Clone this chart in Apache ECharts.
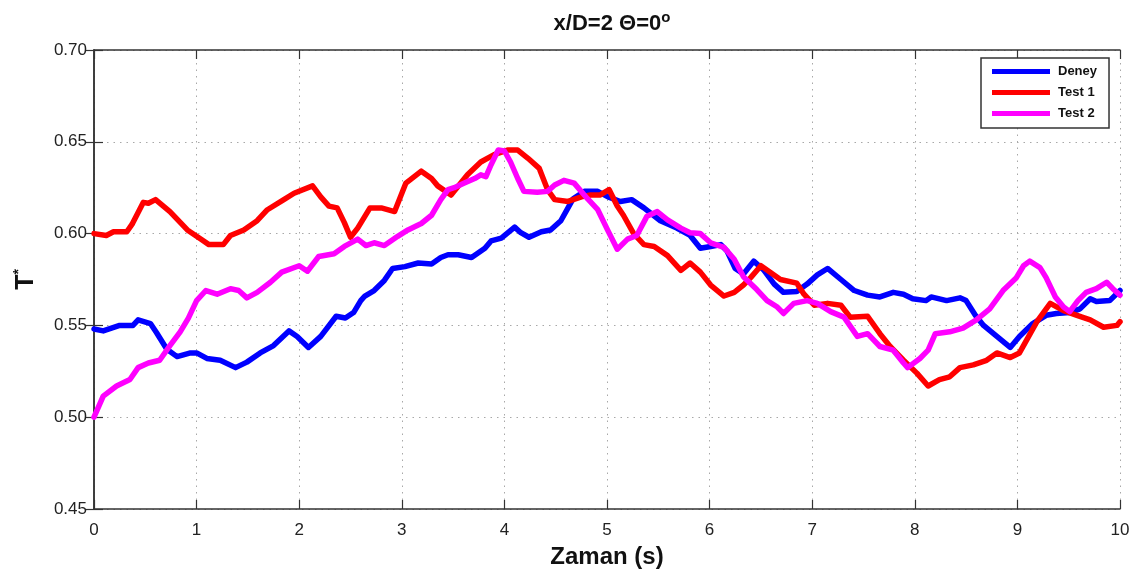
<!DOCTYPE html>
<html>
<head>
<meta charset="utf-8">
<script src="https://cdn.jsdelivr.net/npm/echarts@6/dist/echarts.min.js"></script>
<style>
  html, body { margin: 0; padding: 0; background: #fff; }
  #chart { width: 1140px; height: 578px; }
</style>
</head>
<body>
<div id="chart"></div>
<script>
// Time axis ticks (s) and T* axis ticks
const xTicks = [0, 1, 2, 3, 4, 5, 6, 7, 8, 9, 10];
const yTicks = [0.45, 0.50, 0.55, 0.60, 0.65, 0.70];

// Deney (experiment)
const deneyT = [0, 0.09, 0.25, 0.38, 0.43, 0.55, 0.61, 0.71, 0.81, 0.94, 1.00, 1.10, 1.23, 1.38, 1.49, 1.62, 1.75, 1.90, 1.98, 2.09, 2.21, 2.36, 2.45, 2.53, 2.60, 2.64, 2.73, 2.83, 2.91, 3.03, 3.16, 3.29, 3.38, 3.45, 3.55, 3.68, 3.81, 3.87, 3.97, 4.10, 4.16, 4.24, 4.36, 4.45, 4.55, 4.62, 4.67, 4.78, 4.91, 5.01, 5.13, 5.24, 5.36, 5.52, 5.68, 5.81, 5.91, 6.01, 6.11, 6.17, 6.25, 6.33, 6.43, 6.53, 6.63, 6.72, 6.85, 6.95, 7.05, 7.15, 7.28, 7.41, 7.54, 7.66, 7.79, 7.89, 7.98, 8.11, 8.16, 8.31, 8.44, 8.50, 8.59, 8.67, 8.80, 8.93, 9.02, 9.15, 9.28, 9.38, 9.51, 9.61, 9.71, 9.77, 9.90, 10.0];
const deneyV = [0.548, 0.547, 0.550, 0.550, 0.553, 0.551, 0.546, 0.537, 0.533, 0.535, 0.535, 0.532, 0.531, 0.527, 0.530, 0.535, 0.539, 0.547, 0.544, 0.538, 0.544, 0.555, 0.554, 0.557, 0.5635, 0.566, 0.569, 0.5745, 0.581, 0.582, 0.584, 0.5835, 0.587, 0.5885, 0.5885, 0.587, 0.592, 0.596, 0.5975, 0.6035, 0.6005, 0.598, 0.601, 0.602, 0.607, 0.614, 0.619, 0.623, 0.623, 0.620, 0.6175, 0.6185, 0.614, 0.607, 0.603, 0.599, 0.592, 0.593, 0.594, 0.5905, 0.581, 0.578, 0.585, 0.580, 0.5725, 0.568, 0.5685, 0.5725, 0.5775, 0.581, 0.575, 0.569, 0.5665, 0.5655, 0.568, 0.567, 0.5645, 0.5635, 0.5655, 0.5635, 0.565, 0.5635, 0.5555, 0.550, 0.544, 0.538, 0.544, 0.551, 0.5555, 0.5565, 0.557, 0.559, 0.5645, 0.563, 0.5635, 0.569];

// Test 1
const test1T = [0, 0.12, 0.19, 0.32, 0.37, 0.48, 0.53, 0.60, 0.74, 0.91, 1.04, 1.12, 1.26, 1.33, 1.46, 1.59, 1.69, 1.85, 1.95, 2.13, 2.21, 2.29, 2.37, 2.44, 2.50, 2.57, 2.69, 2.80, 2.93, 3.04, 3.19, 3.29, 3.35, 3.48, 3.64, 3.77, 3.90, 4.03, 4.13, 4.23, 4.34, 4.42, 4.49, 4.62, 4.75, 4.84, 4.93, 5.02, 5.10, 5.16, 5.26, 5.36, 5.46, 5.59, 5.72, 5.81, 5.91, 6.01, 6.14, 6.24, 6.33, 6.40, 6.50, 6.59, 6.69, 6.85, 6.92, 7.02, 7.15, 7.28, 7.37, 7.54, 7.66, 7.76, 7.89, 8.02, 8.13, 8.24, 8.34, 8.44, 8.57, 8.70, 8.80, 8.93, 9.02, 9.11, 9.19, 9.32, 9.45, 9.58, 9.71, 9.84, 9.97, 10.0];
const test1V = [0.600, 0.599, 0.601, 0.601, 0.605, 0.617, 0.6165, 0.6185, 0.612, 0.602, 0.597, 0.594, 0.594, 0.599, 0.602, 0.607, 0.613, 0.6185, 0.622, 0.626, 0.620, 0.615, 0.614, 0.606, 0.598, 0.603, 0.614, 0.614, 0.612, 0.6275, 0.634, 0.630, 0.626, 0.621, 0.632, 0.639, 0.643, 0.6455, 0.6455, 0.641, 0.6355, 0.624, 0.6185, 0.6175, 0.620, 0.621, 0.621, 0.624, 0.615, 0.610, 0.600, 0.594, 0.593, 0.588, 0.580, 0.584, 0.579, 0.572, 0.566, 0.568, 0.572, 0.576, 0.5825, 0.579, 0.575, 0.573, 0.567, 0.561, 0.562, 0.561, 0.5545, 0.555, 0.5455, 0.5385, 0.531, 0.524, 0.517, 0.5205, 0.522, 0.527, 0.5285, 0.531, 0.535, 0.5325, 0.535, 0.544, 0.552, 0.562, 0.558, 0.5555, 0.553, 0.549, 0.550, 0.552];

// Test 2
const test2T = [0, 0.09, 0.22, 0.35, 0.43, 0.53, 0.64, 0.74, 0.84, 0.92, 1.00, 1.09, 1.20, 1.33, 1.41, 1.49, 1.59, 1.72, 1.83, 2.00, 2.08, 2.19, 2.34, 2.44, 2.57, 2.65, 2.73, 2.83, 2.96, 3.06, 3.19, 3.29, 3.38, 3.45, 3.51, 3.61, 3.71, 3.77, 3.82, 3.87, 3.94, 4.00, 4.06, 4.13, 4.19, 4.32, 4.42, 4.49, 4.58, 4.68, 4.81, 4.91, 5.01, 5.10, 5.20, 5.29, 5.39, 5.49, 5.59, 5.72, 5.81, 5.91, 6.01, 6.14, 6.24, 6.33, 6.46, 6.56, 6.66, 6.72, 6.82, 6.95, 7.05, 7.18, 7.31, 7.44, 7.54, 7.66, 7.79, 7.89, 7.93, 8.05, 8.13, 8.20, 8.34, 8.47, 8.60, 8.73, 8.86, 8.99, 9.06, 9.12, 9.22, 9.28, 9.37, 9.45, 9.51, 9.59, 9.67, 9.77, 9.87, 9.93, 10.0];
const test2V = [0.500, 0.5115, 0.517, 0.5205, 0.527, 0.5295, 0.531, 0.539, 0.5465, 0.554, 0.5635, 0.569, 0.567, 0.570, 0.569, 0.565, 0.568, 0.5735, 0.579, 0.5825, 0.5795, 0.5875, 0.589, 0.593, 0.597, 0.5935, 0.595, 0.5935, 0.5985, 0.602, 0.6055, 0.610, 0.6185, 0.624, 0.625, 0.6275, 0.630, 0.632, 0.631, 0.6375, 0.6455, 0.645, 0.639, 0.630, 0.623, 0.6225, 0.623, 0.6265, 0.629, 0.6275, 0.619, 0.613, 0.6015, 0.5915, 0.597, 0.599, 0.6095, 0.612, 0.6075, 0.603, 0.6005, 0.600, 0.595, 0.5925, 0.586, 0.5765, 0.5695, 0.5635, 0.560, 0.5565, 0.562, 0.5635, 0.562, 0.5575, 0.5545, 0.544, 0.5455, 0.5385, 0.5365, 0.5295, 0.527, 0.532, 0.5365, 0.5455, 0.5465, 0.5485, 0.553, 0.559, 0.569, 0.576, 0.5825, 0.585, 0.5815, 0.576, 0.5655, 0.560, 0.5575, 0.5635, 0.568, 0.570, 0.5735, 0.570, 0.5665];

const seriesNames = ['Deney', 'Test 1', 'Test 2'];
const seriesColors = ['#0000ff', '#ff0000', '#ff00ff'];

const zip = (t, v) => t.map((x, i) => [x, v[i]]);
const seriesData = [zip(deneyT, deneyV), zip(test1T, test1V), zip(test2T, test2V)];

const FONT = '"Liberation Sans", Arial, Helvetica, sans-serif';
const xMin = xTicks[0], xMax = xTicks[xTicks.length - 1];
const yMin = yTicks[0], yMax = yTicks[yTicks.length - 1];

const gridLine = { show: true, lineStyle: { color: '#a8a8a8', type: [1.5, 5], width: 1 } };
const frameLine = { show: true, lineStyle: { color: '#333', width: 1.5 } };
const inTick = { show: true, inside: true, length: 9, lineStyle: { color: '#333', width: 1.2 } };

const chart = echarts.init(document.getElementById('chart'), null, { renderer: 'canvas' });

chart.setOption({
  backgroundColor: '#ffffff',
  animation: false,
  textStyle: { fontFamily: FONT },
  title: {
    left: 607,
    top: 5,
    textAlign: 'center',
    text: '{a|x/D=2 Θ=0}{s|o}',
    textStyle: {
      rich: {
        a: { fontFamily: FONT, fontSize: 22, fontWeight: 'bold', color: '#111', lineHeight: 28 },
        s: { fontFamily: FONT, fontSize: 15, fontWeight: 'bold', color: '#111', verticalAlign: 'top', lineHeight: 14 }
      }
    }
  },
  legend: {
    orient: 'vertical',
    left: 981,
    top: 58,
    padding: [7, 12, 8, 11],
    itemGap: 8,
    itemWidth: 58,
    itemHeight: 5,
    icon: 'rect',
    backgroundColor: '#fff',
    borderColor: '#333',
    borderWidth: 1.5,
    textStyle: { fontFamily: FONT, fontSize: 13, fontWeight: 'bold', color: '#111', padding: [0, 0, 0, 3] },
    data: seriesNames
  },
  grid: { left: 94, right: 20, top: 50, bottom: 69, containLabel: false },
  xAxis: [
    {
      type: 'value', min: xMin, max: xMax, interval: 1,
      name: 'Zaman (s)', nameLocation: 'middle', nameGap: 36,
      nameTextStyle: { fontFamily: FONT, fontSize: 24, fontWeight: 'bold', color: '#111' },
      axisLine: frameLine, axisTick: inTick,
      axisLabel: { fontFamily: FONT, fontSize: 17, color: '#222', margin: 13 },
      splitLine: gridLine
    },
    {
      type: 'value', position: 'top', min: xMin, max: xMax, interval: 1,
      axisLine: frameLine, axisTick: inTick, axisLabel: { show: false }, splitLine: { show: false }
    }
  ],
  yAxis: [
    {
      type: 'value', min: yMin, max: yMax, interval: 0.05,
      name: '{t|T}{s|*}', nameLocation: 'middle', nameGap: 54,
      nameTextStyle: {
        rich: {
          t: { fontFamily: FONT, fontSize: 25, fontWeight: 'bold', color: '#111', lineHeight: 28 },
          s: { fontFamily: FONT, fontSize: 14, fontWeight: 'bold', color: '#111', verticalAlign: 'top', lineHeight: 14 }
        }
      },
      axisLine: frameLine, axisTick: inTick,
      axisLabel: { fontFamily: FONT, fontSize: 17, color: '#222', margin: 7, formatter: v => v.toFixed(2) },
      splitLine: gridLine
    },
    {
      type: 'value', position: 'right', min: yMin, max: yMax, interval: 0.05,
      axisLine: frameLine, axisTick: inTick, axisLabel: { show: false }, splitLine: { show: false }
    }
  ],
  series: seriesNames.map((name, i) => ({
    name,
    type: 'line',
    xAxisIndex: 0,
    yAxisIndex: 0,
    data: seriesData[i],
    showSymbol: false,
    symbol: 'none',
    color: seriesColors[i],
    lineStyle: { color: seriesColors[i], width: 5.5, join: 'round', cap: 'round' },
    z: 2 + i
  }))
});
</script>
</body>
</html>
